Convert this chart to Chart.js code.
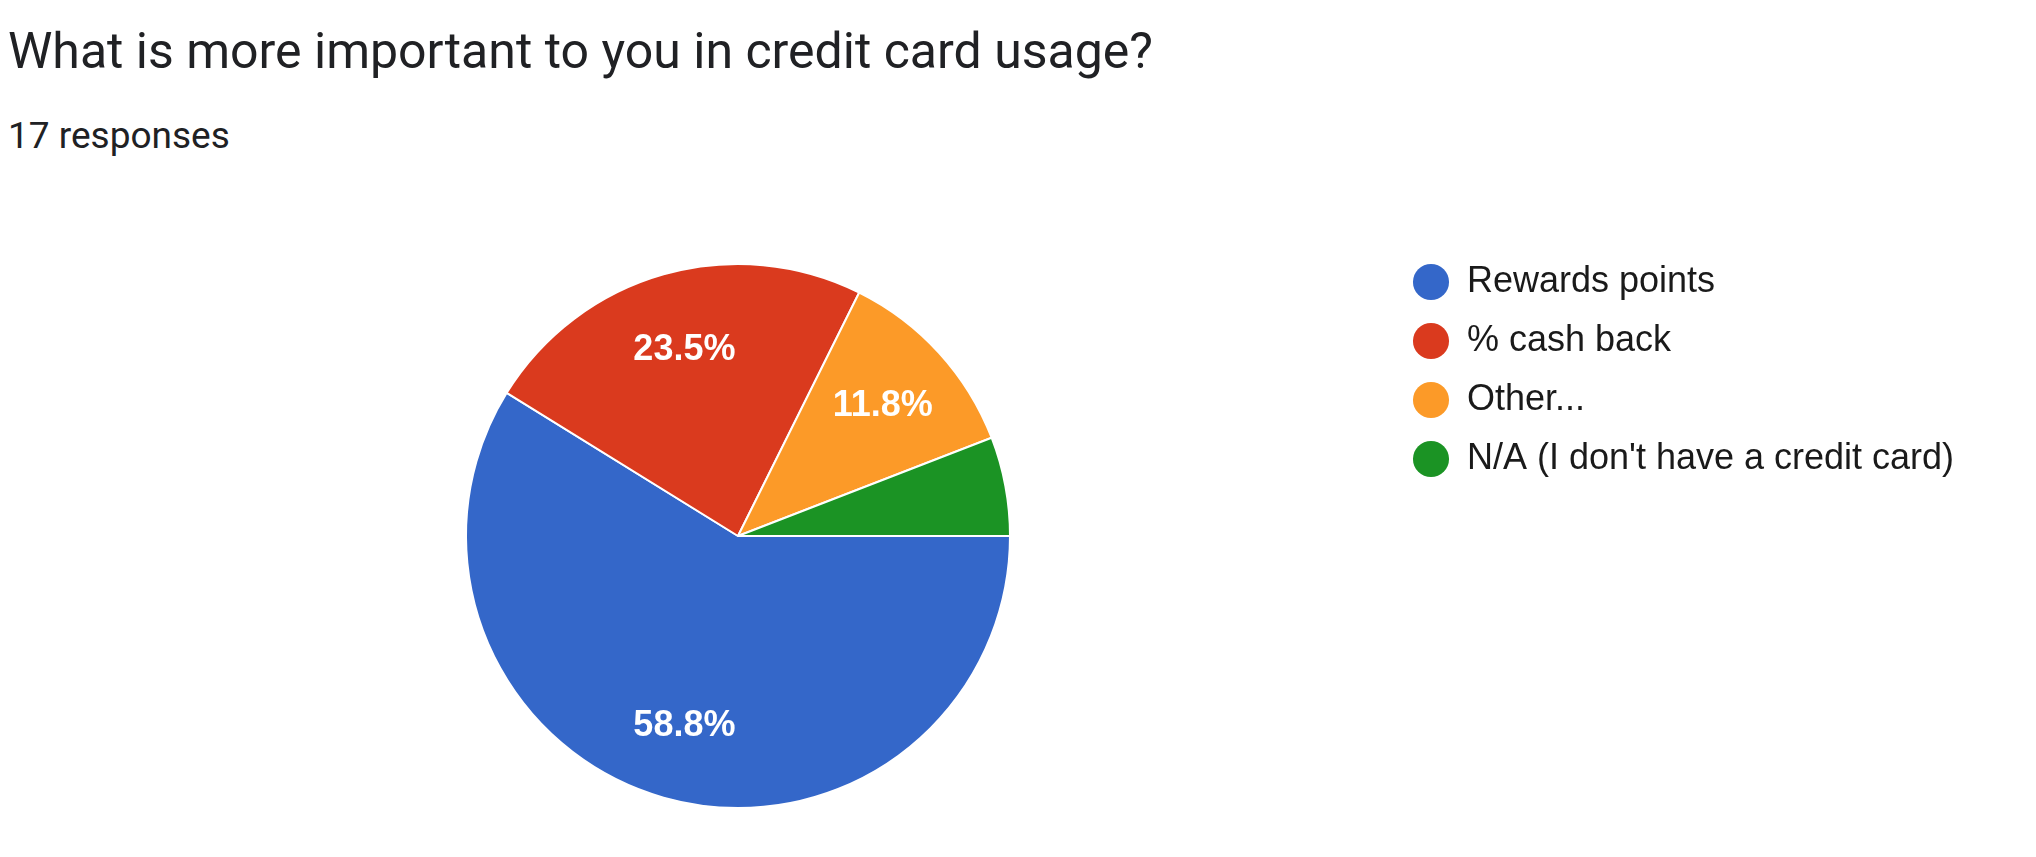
<!DOCTYPE html>
<html>
<head>
<meta charset="utf-8">
<script src="https://cdn.jsdelivr.net/npm/chart.js@4.4.1/dist/chart.umd.min.js"></script>
<style>
html, body { margin: 0; padding: 0; background: #ffffff; }
#wrap { position: relative; width: 2036px; height: 857px; overflow: hidden; }
#title { position: absolute; left: 8px; top: 26px; font-family: Roboto, "Noto Sans", sans-serif; font-size: 50px; line-height: 50px; color: #202124; white-space: nowrap; }
#sub { position: absolute; left: 8px; top: 117px; font-family: Roboto, "Noto Sans", sans-serif; font-size: 37px; line-height: 37px; color: #202124; white-space: nowrap; }
#c { position: absolute; left: 0; top: 0; }
</style>
</head>
<body>
<div id="wrap">
  <div id="title"></div>
  <div id="sub"></div>
  <canvas id="c" width="2036" height="857"></canvas>
</div>
<script>
// ---- data ----
const questionTitle = 'What is more important to you in credit card usage?';
const categories = ['Rewards points', '% cash back', 'Other...', "N/A (I don't have a credit card)"];
const responses = [10, 4, 2, 1];
const sliceColors = ['#3467c9', '#da3a1e', '#fc9a28', '#1b9324'];

const totalResponses = responses.reduce((a, b) => a + b, 0);
document.getElementById('title').textContent = questionTitle;
document.getElementById('sub').textContent = totalResponses + ' responses';

// ---- layout helpers ----
const legendFont = { family: '"Liberation Sans", Arial, sans-serif', size: 36 };
const legendPad = 23;
const legendBoxW = 36;
const legendLeftTarget = 1390;
const mctx = document.createElement('canvas').getContext('2d');
mctx.font = legendFont.size + 'px ' + legendFont.family;
const maxTextW = Math.max(...categories.map(t => mctx.measureText(t).width));
const legendWidth = legendPad + legendBoxW + legendFont.size / 2 + maxTextW + 10;
const padRight = 2036 - legendLeftTarget - legendWidth;

const sliceLabels = {
  id: 'sliceLabels',
  afterDatasetsDraw(chart) {
    const ctx = chart.ctx;
    const meta = chart.getDatasetMeta(0);
    const data = chart.data.datasets[0].data;
    const sum = data.reduce((a, b) => a + b, 0);
    ctx.save();
    ctx.font = 'bold 36px "Liberation Sans", Arial, sans-serif';
    ctx.fillStyle = '#ffffff';
    ctx.textAlign = 'center';
    ctx.textBaseline = 'middle';
    meta.data.forEach((arc, i) => {
      const pct = data[i] / sum * 100;
      if (pct < 10) return;
      const p = arc.getProps(['x', 'y', 'startAngle', 'endAngle', 'outerRadius'], true);
      const mid = (p.startAngle + p.endAngle) / 2;
      const r = p.outerRadius * 0.72;
      ctx.fillText(pct.toFixed(1) + '%', p.x + Math.cos(mid) * r, p.y + Math.sin(mid) * r + 2);
    });
    ctx.restore();
  }
};

new Chart(document.getElementById('c'), {
  type: 'pie',
  data: {
    labels: categories,
    datasets: [{
      data: responses,
      backgroundColor: sliceColors,
      borderColor: '#ffffff',
      borderWidth: 2
    }]
  },
  options: {
    responsive: false,
    animation: false,
    devicePixelRatio: 1,
    rotation: 90,
    layout: { padding: { left: 86, top: 263, bottom: 48, right: padRight } },
    plugins: {
      tooltip: { enabled: false },
      legend: {
        display: true,
        position: 'right',
        align: 'start',
        title: { display: true, text: '', font: { size: 1 }, padding: { top: 0, bottom: -23.2 } },
        labels: {
          usePointStyle: true,
          pointStyle: 'circle',
          boxWidth: legendBoxW,
          boxHeight: 25.5,
          padding: legendPad,
          color: '#1a1a1a',
          font: legendFont,
          generateLabels(chart) {
            const items = Chart.overrides.pie.plugins.legend.labels.generateLabels(chart);
            return items.map(it => Object.assign(it, { lineWidth: 0, strokeStyle: 'rgba(0,0,0,0)' }));
          }
        }
      }
    }
  },
  plugins: [sliceLabels]
});
</script>
</body>
</html>
